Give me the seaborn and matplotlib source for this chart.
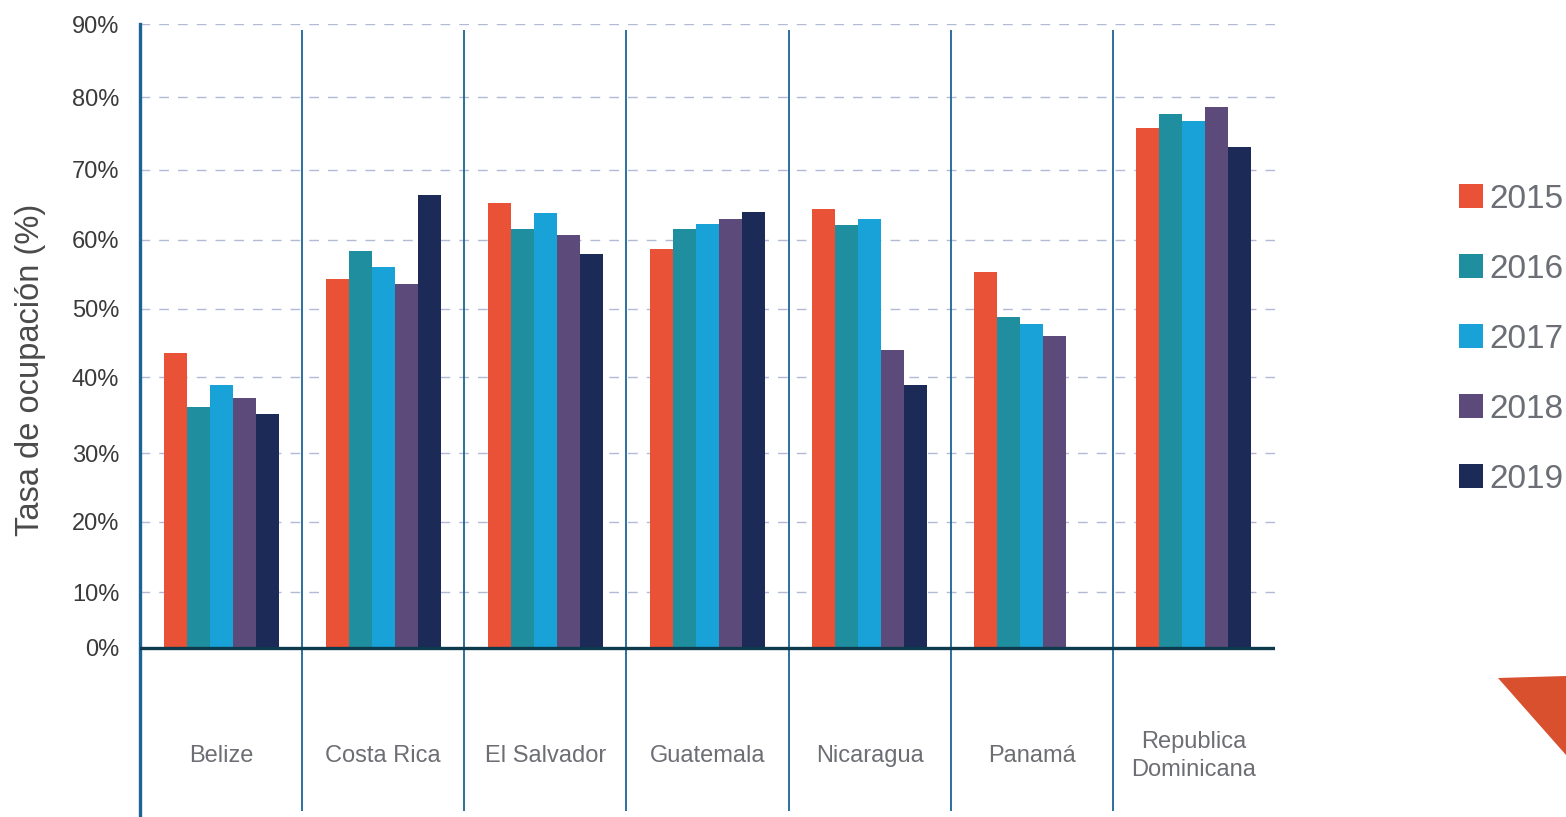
import matplotlib
matplotlib.use("Agg")
import matplotlib.pyplot as plt
import seaborn as sns
import pandas as pd
import numpy as np
from matplotlib.patches import Patch, Polygon

# ---- data ----
countries = ["Belize", "Costa Rica", "El Salvador", "Guatemala", "Nicaragua",
             "Panamá", "Republica\nDominicana"]
years = ["2015", "2016", "2017", "2018", "2019"]
v2015 = [43.6, 54.3, 65.3, 58.7, 64.4, 55.3, 75.7]
v2016 = [36.1, 58.4, 61.6, 61.6, 62.1, 48.8, 77.7]
v2017 = [39.0, 56.1, 63.8, 62.3, 63.0, 47.8, 76.7]
v2018 = [37.3, 53.6, 60.7, 63.0, 44.0, 46.0, 78.6]
v2019 = [35.2, 66.4, 58.0, 64.0, 39.0, np.nan, 73.1]
yticks = [0, 10, 20, 30, 40, 50, 60, 70, 80, 90]
ytick_labels = ["0%", "10%", "20%", "30%", "40%", "50%", "60%", "70%", "80%", "90%"]

colors = ["#EA5237", "#1F8FA0", "#18A2D8", "#5C4B7A", "#1B2A56"]

# the original's value axis is drawn with slightly uneven gridline spacing;
# reproduce that scale (value -> height in px above bottom of axes)
scale_vals = [-24.4, 0, 10, 20, 30, 40, 50, 60, 70, 80, 90]
scale_h = [0, 169, 224.7, 295, 363.7, 439.7, 508.3, 577, 647.3, 720, 792.7]


def fwd(v):
    return np.interp(v, scale_vals, scale_h)


def inv(h):
    return np.interp(h, scale_h, scale_vals)


rows = []
for yr, vals in zip(years, [v2015, v2016, v2017, v2018, v2019]):
    for c, v in zip(countries, vals):
        rows.append({"pais": c, "anio": yr, "tasa": v})
df = pd.DataFrame(rows)

sns.set_style("white")
plt.rcParams["font.family"] = ["Liberation Sans", "DejaVu Sans"]

fig = plt.figure(figsize=(15.66, 8.17), dpi=100)
ax = fig.add_axes([140 / 1566, 0.0, (1275 - 140) / 1566, 1 - 24.3 / 817])

sns.barplot(data=df, x="pais", y="tasa", hue="anio", order=countries,
            hue_order=years, palette=colors, width=0.71, linewidth=0,
            saturation=1, ax=ax, legend=False)

ax.set_yscale("function", functions=(fwd, inv))
ax.set_ylim(-24.4, 90)
ax.set_xlim(-0.5, len(countries) - 0.5)

# gridlines (dashed) for positive ticks
for t in yticks[1:]:
    ax.axhline(t, color="#B3BAD6", lw=1.0, dashes=(7, 6.5), zorder=0)
# zero baseline
ax.axhline(0, color="#0D3A4D", lw=2.4, zorder=5)

# separators between categories
for i in range(1, len(countries)):
    ax.vlines(i - 0.5, -23.6, 89.2, color="#1A6496", lw=1.3, zorder=4)

for s in ["top", "right", "bottom"]:
    ax.spines[s].set_visible(False)
ax.spines["left"].set_color("#1A6496")
ax.spines["left"].set_linewidth(2.4)

ax.set_yticks(yticks)
ax.set_yticklabels(ytick_labels, fontsize=17, color="#3A3A3A")
ax.yaxis.set_minor_locator(matplotlib.ticker.NullLocator())
ax.tick_params(axis="y", length=0, pad=15)
ax.set_xticks([])
ax.set_xlabel("")
ax.set_ylabel("Tasa de ocupación (%)", fontsize=23.5, color="#4A4A4A")
ax.yaxis.set_label_coords(-0.083, 0.564)

for i, c in enumerate(countries):
    ax.text(i, -15.6, c, ha="center", va="center", fontsize=17,
            color="#6D6E73", linespacing=1.35)

handles = [Patch(facecolor=col, edgecolor="none") for col in colors]
fig.legend(handles, years, loc="upper left",
           bbox_to_anchor=(1459 / 1566, 1 - 184 / 817), frameon=False,
           fontsize=24, labelcolor="#6B6E75", handlelength=0.73,
           handleheight=0.73, handletextpad=0.18, labelspacing=1.17,
           borderpad=0, borderaxespad=0)

# decorative corner triangle
tri = Polygon([[1498 / 1566, 1 - 678 / 817], [1.0, 1 - 676 / 817],
               [1.0, 1 - 755 / 817]], closed=True, transform=fig.transFigure,
              facecolor="#D9502F", edgecolor="none")
fig.patches.append(tri)

fig.savefig("out.png", dpi=100)
